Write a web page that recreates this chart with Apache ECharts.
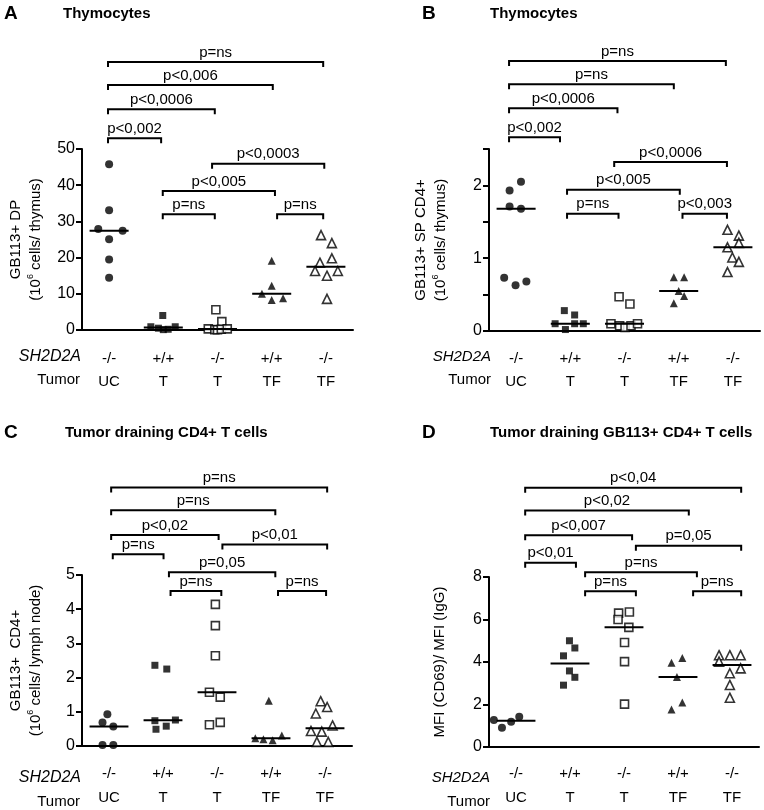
<!DOCTYPE html>
<html><head><meta charset="utf-8">
<script src="https://cdn.jsdelivr.net/npm/echarts@6/dist/echarts.min.js"></script>
<style>html,body{margin:0;padding:0;background:#fff}#c{width:764px;height:810px}</style>
</head><body><div id="c"></div>
<script>
// ---------- data ----------
const genotypes = ['-/-', '+/+', '-/-', '+/+', '-/-'];
const tumors = ['UC', 'T', 'T', 'TF', 'TF'];

// Panel A: GB113+ DP thymocytes (10^6 cells / thymus)
const aUC   = [[1.0,45.8],[1.0,33.1],[0.8,27.9],[1.25,27.4],[1.0,25.1],[1.0,19.5],[1.0,14.4]];
const aTwt  = [[1.99,4.0],[1.77,0.9],[1.91,0.5],[2.0,0.1],[2.09,0.2],[2.22,0.9]];
const aTko  = [[2.97,5.6],[3.08,2.3],[2.83,0.3],[2.95,0.1],[3.0,0.05],[3.07,0.2],[3.18,0.3]];
const aTFwt = [[4.0,19.1],[4.0,12.2],[3.82,10.0],[4.0,8.3],[4.21,8.8]];
const aTFko = [[4.91,26.2],[5.11,24.0],[4.89,18.6],[5.11,19.8],[4.8,16.3],[5.02,15.0],[5.22,16.3],[5.02,8.6]];
const aBrackets = [
  ['p=ns', 0.98, 4.95, 74.0], ['p<0,006', 0.98, 4.02, 67.7], ['p<0,0006', 0.98, 2.95, 61.0],
  ['p<0,002', 0.98, 1.96, 53.0], ['p<0,0003', 2.90, 4.97, 45.9], ['p<0,005', 1.99, 4.06, 38.4],
  ['p=ns', 1.99, 2.95, 32.0], ['p=ns', 4.10, 4.95, 32.0]
];

// Panel B: GB113+ SP CD4+ thymocytes
const bUC   = [[0.88,1.93],[1.09,2.05],[0.88,1.71],[1.09,1.68],[0.78,0.73],[0.99,0.63],[1.19,0.68]];
const bTwt  = [[1.89,0.28],[2.08,0.22],[1.72,0.1],[2.08,0.1],[2.24,0.1],[1.91,0.02]];
const bTko  = [[2.90,0.47],[3.10,0.37],[2.75,0.1],[2.91,0.07],[3.01,0.05],[3.12,0.07],[3.24,0.1]];
const bTFwt = [[3.91,0.74],[4.10,0.74],[4.0,0.55],[4.10,0.48],[3.91,0.38]];
const bTFko = [[4.90,1.39],[5.11,1.31],[4.90,1.15],[5.11,1.21],[4.99,1.01],[5.11,0.95],[4.90,0.81]];
const bBrackets = [
  ['p=ns', 0.87, 4.87, 3.71], ['p=ns', 0.87, 3.91, 3.39], ['p<0,0006', 0.87, 2.87, 3.06],
  ['p<0,002', 0.87, 1.81, 2.66], ['p<0,0006', 2.81, 4.89, 2.32], ['p<0,005', 1.94, 4.02, 1.94],
  ['p=ns', 1.94, 2.89, 1.61], ['p<0,003', 4.07, 4.89, 1.61]
];

// Panel C: tumor draining GB113+ CD4+ (10^6 cells / lymph node)
const cUC   = [[0.97,0.93],[0.88,0.69],[1.08,0.57],[0.88,0.03],[1.08,0.03]];
const cTwt  = [[1.85,2.36],[2.07,2.25],[1.87,0.49],[2.06,0.58],[1.85,0.74],[2.23,0.76]];
const cTko  = [[2.97,4.14],[2.97,3.52],[2.97,2.64],[2.86,1.57],[3.06,1.43],[2.86,0.62],[3.06,0.69]];
const cTFwt = [[3.96,1.32],[3.86,0.2],[4.03,0.17],[4.20,0.31],[3.71,0.23]];
const cTFko = [[4.92,1.31],[5.04,1.14],[4.83,0.95],[5.14,0.6],[4.74,0.44],[4.94,0.42],[4.85,0.12],[5.06,0.12]];
const cBrackets = [
  ['p=ns', 1.04, 5.04, 7.56], ['p=ns', 1.04, 4.08, 6.89], ['p<0,02', 1.04, 3.03, 6.17],
  ['p<0,01', 3.10, 5.04, 5.89], ['p=ns', 1.07, 2.01, 5.61], ['p=0,05', 2.11, 4.08, 5.08],
  ['p=ns', 2.14, 3.08, 4.53], ['p=ns', 4.13, 5.02, 4.53]
];

// Panel D: MFI (CD69) / MFI (IgG)
const dUC   = [[0.59,1.27],[0.74,0.91],[0.91,1.19],[1.06,1.42]];
const dTwt  = [[1.99,5.0],[2.09,4.66],[1.88,4.29],[1.99,3.58],[2.09,3.28],[1.88,2.91]];
const dTko  = [[2.90,6.3],[3.10,6.35],[2.89,6.0],[3.09,5.63],[3.01,4.92],[3.01,4.02],[3.01,2.02]];
const dTFwt = [[3.88,3.96],[4.08,4.19],[3.98,3.29],[4.08,2.1],[3.88,1.76]];
const dTFko = [[4.76,4.32],[4.96,4.32],[5.16,4.32],[4.76,4.02],[5.16,3.7],[4.96,3.47],[4.96,2.92],[4.96,2.32]];
const dBrackets = [
  ['p<0,04', 1.17, 5.17, 12.2], ['p<0,02', 1.17, 4.2, 11.13], ['p<0,007', 1.17, 3.15, 9.97],
  ['p=0,05', 3.22, 5.17, 9.47], ['p<0,01', 1.17, 2.11, 8.67], ['p=ns', 2.28, 4.35, 8.22],
  ['p=ns', 2.28, 3.22, 7.33], ['p=ns', 4.28, 5.17, 7.33]
];

// ---------- rendering ----------
const FONT = '"Liberation Sans", Arial, sans-serif';
const BLACK = '#000';

function median(arr) {
  const v = arr.map(p => p[1]).sort((a, b) => a - b);
  const n = v.length;
  return n % 2 ? v[(n - 1) / 2] : (v[n / 2 - 1] + v[n / 2]) / 2;
}

const symbols = [
  { symbol: 'circle', symbolSize: 8, itemStyle: { color: BLACK } },
  { symbol: 'rect', symbolSize: 7, itemStyle: { color: BLACK } },
  { symbol: 'rect', symbolSize: 8, itemStyle: { color: '#fff', borderColor: BLACK, borderWidth: 1.6 } },
  { symbol: 'triangle', symbolSize: 8, itemStyle: { color: BLACK } },
  { symbol: 'triangle', symbolSize: 9, itemStyle: { color: '#fff', borderColor: BLACK, borderWidth: 1.6 } }
];

const panels = [
  { groups: [aUC, aTwt, aTko, aTFwt, aTFko], brackets: aBrackets,
    grid: { left: 82, top: 149, width: 271, height: 181 }, yMax: 50, yInt: 10,
    yName: '{t|GB113+ DP}\n{t|(10}{s|6}{t| cells/ thymus)}', nameGap: 36, labelMargin: 17, lh: 23 },
  { groups: [bUC, bTwt, bTko, bTFwt, bTFko], brackets: bBrackets,
    grid: { left: 489, top: 149, width: 271, height: 182 }, yMax: 2.5, yInt: 0.5,
    yName: '{t|GB113+ SP CD4+}\n{t|(10}{s|6}{t| cells/ thymus)}', nameGap: 38, labelMargin: 16, lh: 23,
    fmt: v => (Math.abs(v - Math.round(v)) < 1e-9 ? String(Math.round(v)) : '') },
  { groups: [cUC, cTwt, cTko, cTFwt, cTFko], brackets: cBrackets,
    grid: { left: 82, top: 575, width: 270, height: 180 }, yMax: 5, yInt: 1,
    yName: '{t|GB113+  CD4+}\n{t|(10}{s|6}{t| cells/ lymph node)}', nameGap: 36, labelMargin: 16, lh: 24 },
  { groups: [dUC, dTwt, dTko, dTFwt, dTFko], brackets: dBrackets,
    grid: { left: 489, top: 577, width: 270, height: 179 }, yMax: 8, yInt: 2,
    yName: '{t|MFI (CD69)/ MFI (IgG)}', nameGap: 39, labelMargin: 15, lh: 24 }
];

const option = { animation: false, backgroundColor: '#fff', grid: [], xAxis: [], yAxis: [], series: [], graphic: [] };

panels.forEach((p, i) => {
  option.grid.push(p.grid);
  // visible category axis
  option.xAxis.push({
    type: 'category', gridIndex: i, data: tumors.map((t, k) => k), boundaryGap: true,
    axisLine: { lineStyle: { color: BLACK, width: 2 } },
    axisTick: { alignWithLabel: true, length: 5, lineStyle: { color: BLACK, width: 2 } },
    axisLabel: {
      margin: p.labelMargin, lineHeight: p.lh, color: BLACK, fontFamily: FONT, fontSize: 15,
      formatter: k => genotypes[k] + '\n' + tumors[k]
    }
  });
  // hidden value axis for jittered points
  option.xAxis.push({ type: 'value', gridIndex: i, min: 0.5, max: 5.5, show: false });
  option.yAxis.push({
    type: 'value', gridIndex: i, min: 0, max: p.yMax, interval: p.yInt,
    axisLine: { show: true, lineStyle: { color: BLACK, width: 2 } },
    axisTick: { show: true, length: 6, lineStyle: { color: BLACK, width: 2 } },
    splitLine: { show: false },
    axisLabel: { color: BLACK, fontFamily: FONT, fontSize: 16, margin: 7, formatter: p.fmt },
    name: p.yName, nameLocation: 'middle', nameRotate: 90, nameGap: p.nameGap,
    nameTextStyle: {
      color: BLACK, fontFamily: FONT, lineHeight: 20,
      rich: {
        t: { fontSize: 15, fontFamily: FONT, color: BLACK, lineHeight: 20 },
        s: { fontSize: 9, fontFamily: FONT, color: BLACK, verticalAlign: 'top', lineHeight: 20 }
      }
    }
  });
  const xi = 2 * i + 1;
  p.groups.forEach((g, k) => {
    option.series.push(Object.assign({
      type: 'scatter', xAxisIndex: xi, yAxisIndex: i, data: g, silent: true, z: 3
    }, symbols[k]));
  });
  // median lines
  option.series.push({
    type: 'custom', xAxisIndex: xi, yAxisIndex: i, silent: true, z: 4,
    data: p.groups.map((g, k) => [k + 1, median(g)]),
    encode: { x: 0, y: 1 },
    renderItem: (params, api) => {
      const c = api.value(0), m = api.value(1);
      const a = api.coord([c - 0.36, m]), b = api.coord([c + 0.36, m]);
      return { type: 'line', shape: { x1: a[0], y1: a[1], x2: b[0], y2: b[1] },
        style: { stroke: BLACK, lineWidth: 2 } };
    }
  });
  // significance brackets
  option.series.push({
    type: 'custom', xAxisIndex: xi, yAxisIndex: i, silent: true, clip: false, z: 5,
    data: p.brackets.map(b => [b[1], b[2], b[3]]),
    encode: { x: [0, 1], y: 2 },
    renderItem: (params, api) => {
      const lab = p.brackets[params.dataIndex][0];
      const y = api.value(2);
      const a = api.coord([api.value(0), y]), b = api.coord([api.value(1), y]);
      return { type: 'group', children: [
        { type: 'polyline', shape: { points: [[a[0], a[1] + 5], a, b, [b[0], b[1] + 5]] },
          style: { stroke: BLACK, lineWidth: 2, fill: null } },
        { type: 'text', x: (a[0] + b[0]) / 2, y: a[1] - 2,
          style: { text: lab, align: 'center', verticalAlign: 'bottom', fontSize: 15, fontFamily: FONT, fill: BLACK } }
      ] };
    }
  });
});

// panel letters, titles, row labels
const txt = (x, y, text, o) => Object.assign({ type: 'text', x, y,
  style: Object.assign({ text, fontFamily: FONT, fontSize: 15, fill: BLACK, verticalAlign: 'middle' }, o || {}) });
option.graphic = [
  txt(4, 14, 'A', { fontSize: 19, fontWeight: 'bold' }),
  txt(63, 14, 'Thymocytes', { fontWeight: 'bold' }),
  txt(422, 14, 'B', { fontSize: 19, fontWeight: 'bold' }),
  txt(490, 14, 'Thymocytes', { fontWeight: 'bold' }),
  txt(4, 433, 'C', { fontSize: 19, fontWeight: 'bold' }),
  txt(65, 433, 'Tumor draining CD4+ T cells', { fontWeight: 'bold' }),
  txt(422, 433, 'D', { fontSize: 19, fontWeight: 'bold' }),
  txt(490, 433, 'Tumor draining GB113+ CD4+ T cells', { fontWeight: 'bold' }),
  txt(81, 357, 'SH2D2A', { align: 'right', fontStyle: 'italic', fontSize: 16 }),
  txt(80, 380, 'Tumor', { align: 'right' }),
  txt(491, 357, 'SH2D2A', { align: 'right', fontStyle: 'italic' }),
  txt(491, 380, 'Tumor', { align: 'right' }),
  txt(81, 778, 'SH2D2A', { align: 'right', fontStyle: 'italic', fontSize: 16 }),
  txt(80, 802, 'Tumor', { align: 'right' }),
  txt(490, 778, 'SH2D2A', { align: 'right', fontStyle: 'italic' }),
  txt(490, 802, 'Tumor', { align: 'right' })
];

const chart = echarts.init(document.getElementById('c'), null, { renderer: 'canvas' });
chart.setOption(option);
</script>
</body></html>
